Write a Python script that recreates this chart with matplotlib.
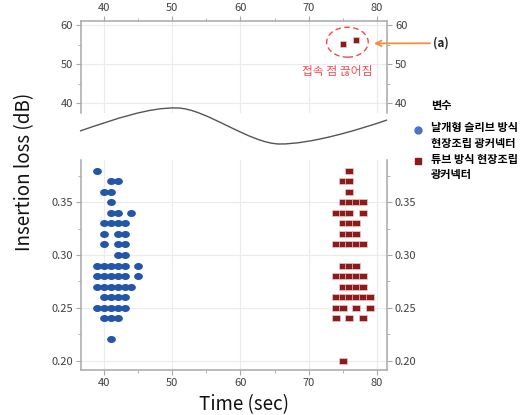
import matplotlib
matplotlib.use('Agg')
import matplotlib.pyplot as plt
from matplotlib.patches import Ellipse, PathPatch
from matplotlib.path import Path
from matplotlib.lines import Line2D
from matplotlib.ticker import MultipleLocator

plt.rcParams['font.family'] = ['Noto Sans CJK KR', 'DejaVu Sans']

# insertion loss rows: value -> times (sec) at which it was measured
wing_rows = {
    0.38: [39], 0.37: [41, 42], 0.36: [40, 41], 0.35: [41],
    0.34: [41, 42, 44], 0.33: [40, 41, 42, 43], 0.32: [40, 42, 43],
    0.31: [40, 42, 43], 0.30: [42, 43], 0.29: [39, 40, 41, 42, 43, 45],
    0.28: [39, 40, 41, 42, 43, 45], 0.27: [39, 40, 41, 42, 43, 44],
    0.26: [40, 41, 42, 43], 0.25: [39, 40, 41, 42, 43],
    0.24: [40, 41, 42], 0.22: [41],
}
tube_rows = {
    0.38: [76], 0.37: [75, 76], 0.36: [76], 0.35: [75, 76, 77, 78],
    0.34: [74, 75, 76, 78], 0.33: [75, 76, 77], 0.32: [75, 76, 77],
    0.31: [74, 75, 76, 77, 78], 0.29: [75, 76, 77],
    0.28: [74, 75, 76, 77, 78], 0.27: [75, 76, 77, 78],
    0.26: [74, 75, 76, 77, 78, 79], 0.25: [74, 75, 77, 79],
    0.24: [74, 76, 78], 0.20: [75],
}
# disconnected points (loss jumps to ~55 dB)
broken_x = [75, 77]
broken_y = [55.1, 56.2]

wing_x = [t for v, ts in wing_rows.items() for t in ts]
wing_y = [v for v, ts in wing_rows.items() for t in ts]
tube_x = [t for v, ts in tube_rows.items() for t in ts]
tube_y = [v for v, ts in tube_rows.items() for t in ts]

blue = '#2356a8'
red = '#8b1c1c'
spine_c = '#a8a8a8'
tick_c = '#404040'

# markers are a little wider than tall in the original
oval = Path.unit_circle().transformed(matplotlib.transforms.Affine2D().scale(1, 0.8))
flat_sq = [(-1, -0.75), (1, -0.75), (1, 0.75), (-1, 0.75), (-1, -0.75)]

W, H = 528, 415
fig = plt.figure(figsize=(W / 100, H / 100), dpi=100)
ax_top = fig.add_axes([80.7 / W, 1 - 113 / H, 306.6 / W, 92.3 / H])
ax_bot = fig.add_axes([80.7 / W, 1 - 370 / H, 306.6 / W, 210 / H])

for ax in (ax_top, ax_bot):
    ax.set_xlim(36.55, 81.55)
    ax.xaxis.set_major_locator(MultipleLocator(10))
    ax.xaxis.set_minor_locator(MultipleLocator(5))
    ax.grid(True, which='major', color='#ebebeb', linewidth=0.8)
    ax.set_axisbelow(True)
    for s in ax.spines.values():
        s.set_color(spine_c)
        s.set_linewidth(1.1)
    ax.tick_params(which='both', direction='out', color=spine_c, labelcolor=tick_c,
                   labelsize=8, left=True, right=True, labelleft=True, labelright=True)
    ax.tick_params(which='major', length=3.5, pad=2)
    ax.tick_params(which='minor', length=2)

ax_top.set_ylim(37.5, 61.1)
ax_top.yaxis.set_major_locator(MultipleLocator(10))
ax_top.yaxis.set_minor_locator(MultipleLocator(5))
ax_top.spines['bottom'].set_visible(False)
ax_top.tick_params(which='both', bottom=False, labelbottom=False, top=True, labeltop=True)

ax_bot.set_ylim(0.191, 0.39)
ax_bot.yaxis.set_major_locator(MultipleLocator(0.05))
ax_bot.yaxis.set_minor_locator(MultipleLocator(0.025))
ax_bot.yaxis.set_major_formatter(plt.FormatStrFormatter('%.2f'))
ax_bot.spines['top'].set_visible(False)

ax_bot.scatter(wing_x, wing_y, s=40, marker=oval, color=blue, linewidths=0, zorder=3)
ax_bot.scatter(tube_x, tube_y, s=32, marker=flat_sq, color=red,
               edgecolors='#f0c8c8', linewidths=0.5, zorder=3)
ax_top.scatter(broken_x, broken_y, s=20, marker='s', color=red,
               edgecolors='#f0c8c8', linewidths=0.5, zorder=3)

ax_top.add_patch(Ellipse((75.7, 55.6), 6.1, 7.65, fill=False, edgecolor='#f04848',
                         linestyle=(0, (4, 2.5)), linewidth=1.0, zorder=4))
ax_top.text(74.2, 48.1, '접속 점 끊어짐', color='#f05050', fontsize=8.5,
            ha='center', va='center')
ax_top.annotate('', xy=(79.6, 55.3), xytext=(430 / W, 1 - 43.3 / H),
                textcoords='figure fraction',
                arrowprops=dict(arrowstyle='->', color='#f0903a', lw=1.3,
                                shrinkA=0, shrinkB=0), annotation_clip=False)
fig.text(433 / W, 1 - 43.3 / H, '(a)', fontsize=8.5, fontweight='bold',
         ha='left', va='center', color='#222222')

# wavy break marker between the panels
pts = [(80, 131), (115, 119), (150, 107), (177, 108),
       (205, 108), (250, 144), (280, 144),
       (310, 144), (355, 131), (387, 120)]
codes = [Path.MOVETO] + [Path.CURVE4] * 9
verts = [(x / W, 1 - y / H) for x, y in pts]
fig.add_artist(PathPatch(Path(verts, codes), fill=False, edgecolor='#555555',
                         linewidth=1.0, transform=fig.transFigure))

fig.text(25 / W, 1 - 172 / H, 'Insertion loss (dB)', rotation=90, fontsize=13.5,
         ha='center', va='center', color='#111111')
fig.text(244 / W, 1 - 405 / H, 'Time (sec)', fontsize=13.5,
         ha='center', va='center', color='#111111')

# legend
fig.text(430.7 / W, 1 - 106 / H, '변수', fontsize=8, fontweight='bold', va='center')
fig.add_artist(Line2D([418.3 / W], [1 - 130 / H], marker='o', markersize=5,
                      color='#4a72c8', linestyle='none'))
fig.text(430.7 / W, 1 - 135.5 / H, '날개형 슬리브 방식\n현장조립 광커넥터', fontsize=8,
         fontweight='bold', va='center', linespacing=1.25)
fig.add_artist(Line2D([418.3 / W], [1 - 160.7 / H], marker='s', markersize=4.5,
                      color=red, linestyle='none'))
fig.text(430.7 / W, 1 - 167 / H, '튜브 방식 현장조립\n광커넥터', fontsize=8,
         fontweight='bold', va='center', linespacing=1.25)

fig.savefig('out.png', dpi=100)
